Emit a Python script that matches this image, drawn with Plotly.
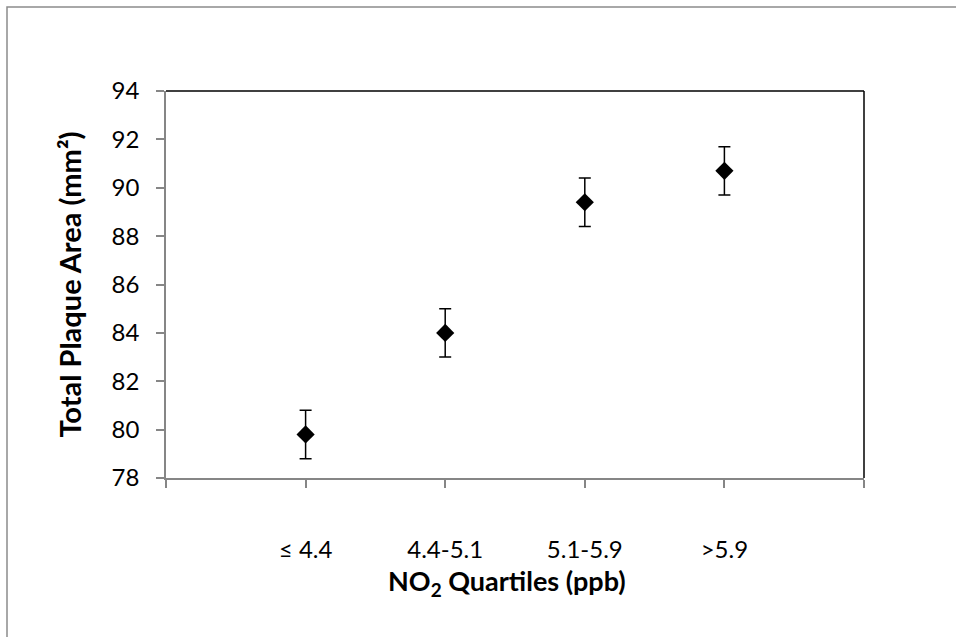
import plotly.graph_objects as go

categories = ["≤ 4.4", "4.4-5.1", "5.1-5.9", ">5.9"]
positions = [1, 2, 3, 4]
plaque_area = [79.8, 84.0, 89.4, 90.7]
error = [1.0, 1.0, 1.0, 1.0]
y_ticks = [78, 80, 82, 84, 86, 88, 90, 92, 94]

W, H = 956, 637
L, R, T, B = 166, 92, 91, 159
pw, ph = W - L - R, H - T - B

def px_x(p):
    return (p - L) / pw

def px_y(p):
    return (H - B - p) / ph

fig = go.Figure()
fig.add_trace(go.Scatter(
    x=positions, y=plaque_area, mode="markers",
    marker=dict(symbol="diamond", size=14, color="black"),
    error_y=dict(type="data", array=error, visible=True, color="black", thickness=1.5, width=6),
    showlegend=False, cliponaxis=False,
))

gray = "#868686"
fig.update_layout(
    width=W, height=H,
    margin=dict(l=L, r=R, t=T, b=B),
    paper_bgcolor="white", plot_bgcolor="white",
    font=dict(family="Lato, Noto Sans, sans-serif", size=24, color="black"),
    xaxis=dict(
        range=[0, 5], tickmode="array", tickvals=positions, ticktext=categories,
        showgrid=False, zeroline=False, showline=True, linecolor=gray, linewidth=1.5,
        ticks="outside", ticklen=8, tickcolor=gray, tickwidth=1.5,
        minor=dict(ticks="outside", tickmode="linear", tick0=0, dtick=1,
                   ticklen=8, tickcolor=gray, tickwidth=1.5, showgrid=False),
        ticklabelstandoff=41,
        fixedrange=True,
    ),
    yaxis=dict(
        range=[78, 94], tickmode="array", tickvals=y_ticks,
        showgrid=False, zeroline=False, showline=True, linecolor=gray, linewidth=1.5,
        ticks="outside", ticklen=8, tickcolor=gray, tickwidth=1.5,
        ticklabelstandoff=12,
        title=dict(text="<b>Total Plaque Area (mm²)</b>", font=dict(size=29), standoff=21),
        fixedrange=True,
    ),
    annotations=[
        dict(text="<b>NO<sub>2</sub> Quartiles (ppb)</b>", xref="paper", yref="paper",
             x=px_x(507), y=px_y(582), xanchor="center", yanchor="middle",
             showarrow=False, font=dict(size=27)),
    ],
    shapes=[
        dict(type="rect", xref="paper", yref="paper",
             x0=px_x(7), x1=px_x(1000), y0=px_y(700), y1=px_y(7),
             line=dict(color="#8c8c8c", width=1.5), fillcolor="rgba(0,0,0,0)", layer="below"),
        dict(type="line", xref="paper", yref="paper", x0=0, x1=1, y0=1, y1=1,
             line=dict(color="black", width=1.5)),
        dict(type="line", xref="paper", yref="paper", x0=1, x1=1, y0=0, y1=1,
             line=dict(color="black", width=1.5)),
    ],
)

fig.write_html("out.html", config={"displayModeBar": False},
               post_script="document.body.style.margin='0';")
